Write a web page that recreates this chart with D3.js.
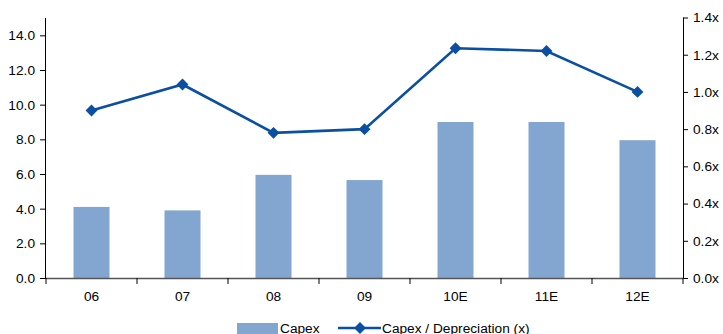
<!DOCTYPE html>
<html>
<head>
<meta charset="utf-8">
<script src="https://cdn.jsdelivr.net/npm/d3@7"></script>
<style>
  html, body { margin: 0; padding: 0; background: #fff; }
  svg { display: block; font-family: "Liberation Sans", Arial, sans-serif; }
</style>
</head>
<body>
<svg id="chart" width="723" height="334"></svg>
<script>
// Capex (left axis) and Capex / Depreciation ratio (right axis)
const categories = ["06", "07", "08", "09", "10E", "11E", "12E"];
const capex = [4.1, 3.9, 5.95, 5.65, 9.0, 9.0, 7.95];
const capexToDep = [0.90, 1.04, 0.78, 0.80, 1.235, 1.22, 1.0];
const leftTicks = [0, 2, 4, 6, 8, 10, 12, 14];
const rightTicks = [0, 0.2, 0.4, 0.6, 0.8, 1.0, 1.2, 1.4];

const barColor = "#82A6D0";
const lineColor = "#0A4FA2";
const fontSize = 13.7;

const svg = d3.select("#chart");
const plot = { left: 46, right: 683, top: 18, bottom: 278 };

const xOuter = d3.scaleBand().domain(categories).range([plot.left, plot.right]);
const yL = d3.scaleLinear().domain([0, 15]).range([plot.bottom, plot.top]);
const yR = d3.scaleLinear().domain([0, 1.4]).range([plot.bottom, plot.top - 0.5]);

// Bars
svg.append("g").selectAll("rect").data(categories).join("rect")
  .attr("x", d => xOuter(d) + (xOuter.bandwidth() - 36) / 2)
  .attr("width", 36)
  .attr("y", (d, i) => yL(capex[i]))
  .attr("height", (d, i) => plot.bottom - yL(capex[i]))
  .attr("fill", barColor);

// Left axis
const gL = svg.append("g").attr("transform", `translate(${plot.left},0)`)
  .call(d3.axisLeft(yL).tickValues(leftTicks).tickFormat(d3.format(".1f")).tickSize(6).tickPadding(5));
gL.select(".domain").attr("d", `M-0.5,${plot.top}V${plot.bottom}`);

// Right axis
const gR = svg.append("g").attr("transform", `translate(${plot.right},0)`)
  .call(d3.axisRight(yR).tickValues(rightTicks).tickFormat(d => d.toFixed(1) + "x").tickSize(5).tickPadding(5));
gR.select(".domain").attr("d", `M0.5,${plot.top - 0.5}V${plot.bottom}`);

// Category axis with ticks on band boundaries
const gX = svg.append("g").attr("transform", `translate(0,${plot.bottom})`)
  .call(d3.axisBottom(xOuter).tickSize(0).tickPadding(13));
gX.select(".domain").attr("d", `M${plot.left},0.5H${plot.right}`);
gX.selectAll(".bound").data(d3.range(categories.length + 1)).join("line")
  .attr("class", "bound")
  .attr("x1", i => plot.left + i * xOuter.step()).attr("x2", i => plot.left + i * xOuter.step())
  .attr("y1", 0).attr("y2", 6).attr("stroke", "#000");

svg.selectAll(".tick text").attr("font-size", fontSize).attr("fill", "#000");
svg.selectAll(".tick line").attr("stroke", "#000");
svg.selectAll(".domain").attr("stroke", "#000");
gX.select(".domain").attr("stroke", "#555").attr("stroke-width", 1.5);

// Ratio line with diamond markers
const cx = d => xOuter(d) + xOuter.bandwidth() / 2;
svg.append("path")
  .datum(categories)
  .attr("fill", "none").attr("stroke", lineColor).attr("stroke-width", 2.6)
  .attr("d", d3.line().x(d => cx(d)).y((d, i) => yR(capexToDep[i])));

const diamond = d3.symbol().type(d3.symbolDiamond2).size(90);
svg.append("g").selectAll("path").data(categories).join("path")
  .attr("transform", (d, i) => `translate(${cx(d)},${yR(capexToDep[i])})`)
  .attr("d", diamond).attr("fill", lineColor);

// Legend
const lg = svg.append("g").attr("font-size", fontSize);
lg.append("rect").attr("x", 237).attr("y", 323).attr("width", 41).attr("height", 14).attr("fill", barColor);
lg.append("text").attr("x", 280).attr("y", 332.5).text("Capex");
lg.append("line").attr("x1", 338).attr("x2", 381).attr("y1", 328).attr("y2", 328)
  .attr("stroke", lineColor).attr("stroke-width", 2.6);
lg.append("path").attr("transform", "translate(360,328)").attr("d", diamond).attr("fill", lineColor);
lg.append("text").attr("x", 382).attr("y", 332.5).text("Capex / Depreciation (x)");
</script>
</body>
</html>
